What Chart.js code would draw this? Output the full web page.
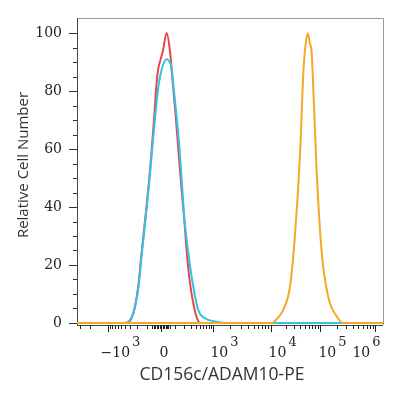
<!DOCTYPE html>
<html>
<head>
<meta charset="utf-8">
<script src="https://cdn.jsdelivr.net/npm/chart.js@4.4.1/dist/chart.umd.min.js"></script>
<style>
  html, body { margin: 0; padding: 0; background: #fff; }
</style>
</head>
<body>
<canvas id="histChart" width="400" height="400"></canvas>
<script>
// x values are display channels (0-1000) of the biexponential axis
const redX  = [0, 162, 184, 200, 211, 228, 238, 245, 253, 260, 266, 271, 281, 293, 304, 312, 322, 331, 341, 351, 359, 369, 380, 391, 402, 1000];
const redY  = [0, 0, 3.3, 12.5, 24, 41, 52, 61, 72, 82.7, 88, 90, 94, 100, 93.6, 84, 72, 60, 47, 35, 24, 14, 6.8, 2, 0, 0];

const cyanX = [0, 157, 184, 201, 212, 229, 240, 250, 259, 268, 277, 285, 292, 298, 309, 317, 326, 335, 343, 351, 364, 380, 396, 418, 451, 484, 1000];
const cyanY = [0, 0, 3.3, 12.5, 24, 41, 53, 65, 75, 83, 87.5, 90, 91, 90.7, 88, 80, 70.7, 60, 48, 36, 24, 12.5, 4.5, 1.6, 0.5, 0, 0];

const orangeX = [0, 636, 654, 674, 696, 712, 729, 740, 747, 754, 760, 767, 772, 783, 800, 821, 849, 870, 1000];
const orangeY = [0, 0, 1.5, 4.5, 12.5, 29.8, 58.6, 87, 96, 99.9, 97, 93, 81.5, 52.8, 24, 9, 2.2, 0, 0];

// axis
const yTicks = [0, 20, 40, 60, 80, 100];
const xMajorValues = [-1000, 0, 1e3, 1e4, 1e5, 1e6];
const xMajorChannels = [101, 275, 444, 634, 794, 974];
const xLabelBase = ['\u221210', '0', '10', '10', '10', '10'];
const xLabelExp = ['3', '', '3', '4', '5', '6'];
const xLabelChannels = [142, 284, 482, 672, 835, 946];

const xTitle = 'CD156c/ADAM10-PE';
const yTitle = 'Relative Cell Number';

function toPoints(xs, ys) {
  return xs.map((x, i) => ({ x: x, y: ys[i] }));
}

// value -> channel, only used to place the minor tick marks
const W = 125;
function channelOf(v) {
  const c0 = xMajorChannels[1];
  const cNeg = xMajorChannels[0];
  const pos = xMajorChannels.slice(2);
  if (v >= 1000) {
    const k = Math.log10(v);
    const d = Math.floor(k) - 3;
    if (d >= pos.length - 1) return pos[pos.length - 1];
    return pos[d] + (k - Math.floor(k)) * (pos[d + 1] - pos[d]);
  }
  if (v >= 0) return c0 + (pos[0] - c0) * Math.asinh(v / W) / Math.asinh(1000 / W);
  if (v > -1000) return c0 - (c0 - cNeg) * Math.asinh(-v / W) / Math.asinh(1000 / W);
  return cNeg - Math.log10(-v / 1000) * 190;
}

const xMinorValues = [];
[10, 20, 30, 40, 50, 60].forEach(v => { xMinorValues.push(v, -v); });
for (let m = 1; m <= 9; m++) xMinorValues.push(m * 100, -m * 100);
for (let m = 2; m <= 9; m++) {
  xMinorValues.push(-m * 1000, m * 1e3, m * 1e4, m * 1e5);
}

const flowAxes = {
  id: 'flowAxes',
  beforeDatasetsDraw(chart) {
    const { ctx, chartArea: a, scales } = chart;
    const x = scales.x, y = scales.y;
    ctx.save();
    ctx.lineWidth = 1;

    // frame top / right
    ctx.strokeStyle = '#9a9a9a';
    ctx.beginPath();
    ctx.moveTo(a.left, a.top + 0.5);
    ctx.lineTo(a.right + 0.5, a.top + 0.5);
    ctx.lineTo(a.right + 0.5, a.bottom);
    ctx.stroke();

    // axis lines
    ctx.strokeStyle = '#444';
    ctx.beginPath();
    ctx.moveTo(a.left + 0.5, a.top);
    ctx.lineTo(a.left + 0.5, a.bottom + 0.5);
    ctx.lineTo(a.right, a.bottom + 0.5);
    ctx.stroke();

    // y ticks
    ctx.strokeStyle = '#333';
    ctx.beginPath();
    for (let v = 0; v <= 100; v += 5) {
      const py = Math.round(y.getPixelForValue(v)) + 0.5;
      const len = v % 20 === 0 ? 8 : 4;
      ctx.moveTo(a.left, py);
      ctx.lineTo(a.left - len, py);
    }
    ctx.stroke();

    // x ticks
    ctx.strokeStyle = '#222';
    ctx.beginPath();
    const drawTick = (c, len) => {
      if (c < x.min || c > x.max) return;
      const px = Math.round(x.getPixelForValue(c)) + 0.5;
      ctx.moveTo(px, a.bottom);
      ctx.lineTo(px, a.bottom + len);
    };
    xMinorValues.forEach(v => drawTick(channelOf(v), 4));
    xMajorChannels.forEach(c => drawTick(c, 7));
    ctx.stroke();
    ctx.restore();
  },
  afterDraw(chart) {
    const { ctx, scales } = chart;
    const x = scales.x;
    ctx.save();
    ctx.fillStyle = '#222';
    ctx.textBaseline = 'alphabetic';
    ctx.textAlign = 'left';
    const baseFont = '14px "DejaVu Serif"';
    const expFont = '13px "DejaVu Serif"';
    xLabelChannels.forEach((c, i) => {
      ctx.font = baseFont;
      const wb = ctx.measureText(xLabelBase[i]).width;
      ctx.font = expFont;
      const we = xLabelExp[i] ? ctx.measureText(xLabelExp[i]).width + 2 : 0;
      const cx = x.getPixelForValue(c);
      const left = cx - (wb + we) / 2;
      ctx.font = baseFont;
      ctx.fillText(xLabelBase[i], left, 357);
      if (xLabelExp[i]) {
        ctx.font = expFont;
        ctx.fillText(xLabelExp[i], left + wb + 2, 346);
      }
    });

    // axis titles
    ctx.fillStyle = '#333';
    ctx.textAlign = 'center';
    ctx.textBaseline = 'middle';
    ctx.font = '17.5px "Open Sans"';
    ctx.fillText(xTitle, 222, 375);
    ctx.translate(24, 165);
    ctx.rotate(-Math.PI / 2);
    ctx.font = '15px "Open Sans"';
    ctx.fillText(yTitle, 0, 0);
    ctx.restore();
  }
};

const lineSet = (label, xs, ys, color, order) => ({
  label: label,
  data: toPoints(xs, ys),
  borderColor: color,
  borderWidth: 2,
  pointRadius: 0,
  fill: false,
  cubicInterpolationMode: 'monotone',
  order: order
});

const ctx = document.getElementById('histChart').getContext('2d');
const histChart = new Chart(ctx, {
  type: 'line',
  data: {
    datasets: [
      lineSet('Sample', orangeX, orangeY, '#f4a92a', 1),
      lineSet('Isotype', cyanX, cyanY, '#33c1e6', 2),
      lineSet('Blank', redX, redY, '#e5474d', 3)
    ]
  },
  options: {
    responsive: false,
    animation: false,
    layout: { padding: { top: 18, right: 17, left: 0, bottom: 0 } },
    plugins: { legend: { display: false }, tooltip: { enabled: false } },
    scales: {
      x: {
        type: 'linear',
        min: 0,
        max: 1000,
        grid: { display: false },
        border: { display: false },
        ticks: { display: false },
        afterFit(s) { s.height = 75; s.paddingLeft = 0; s.paddingRight = 0; }
      },
      y: {
        min: -0.7,
        max: 105.2,
        grid: { display: false, drawTicks: false },
        border: { display: false },
        afterBuildTicks(s) { s.ticks = yTicks.map(v => ({ value: v })); },
        ticks: {
          padding: 15,
          color: '#222',
          font: { family: 'DejaVu Serif', size: 14 }
        },
        afterFit(s) { s.width = 77; s.paddingTop = 0; s.paddingBottom = 0; }
      }
    }
  },
  plugins: [flowAxes]
});
</script>
</body>
</html>
